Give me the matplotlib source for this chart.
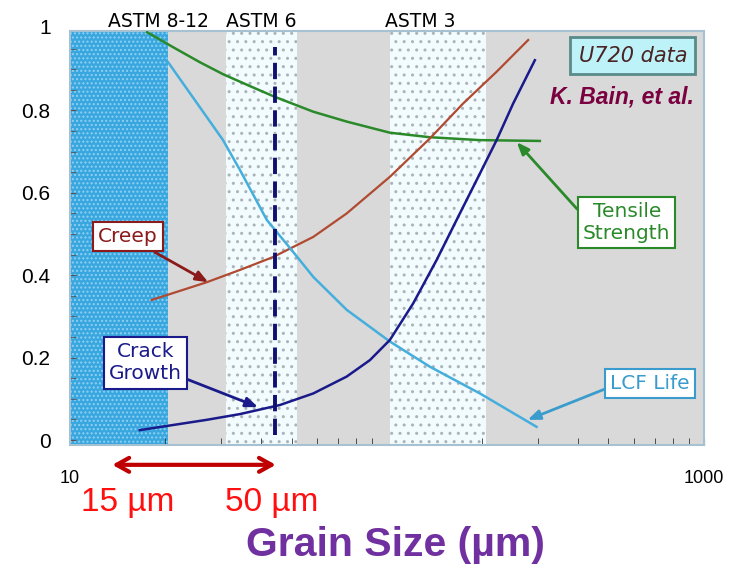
import matplotlib.pyplot as plt
import matplotlib.ticker as mticker

# values (grain size in um, normalised property)
tensile_x = [17.5, 21.1, 25.7, 30.4, 37.0, 44.3, 58.55, 74.65, 102.2, 136.6, 196.6, 303.8]
tensile_y = [0.99, 0.954, 0.917, 0.888, 0.859, 0.833, 0.797, 0.773, 0.746, 0.735, 0.728, 0.726]

creep_x = [18.1, 27, 34.4, 43.7, 58.55, 74.65, 102.2, 136.6, 174.0, 221.9, 279.1]
creep_y = [0.34, 0.383, 0.413, 0.444, 0.493, 0.550, 0.639, 0.732, 0.817, 0.894, 0.971]

lcf_x = [20.4, 30.4, 34.4, 41.8, 50.05, 58.55, 74.65, 102.2, 136.6, 196.6, 296.7]
lcf_y = [0.917, 0.728, 0.655, 0.534, 0.461, 0.396, 0.316, 0.239, 0.178, 0.113, 0.032]

crack_x = [16.6, 27, 34.4, 45.97, 58.55, 74.65, 88.4, 102.2, 121.1, 143.5, 169.9,
           196.6, 221.9, 250.3, 293.0]
crack_y = [0.024, 0.049, 0.063, 0.085, 0.113, 0.154, 0.194, 0.243, 0.332, 0.437,
           0.550, 0.647, 0.728, 0.817, 0.922]

# grain size bands
band_names = ["ASTM 8-12", "ASTM 6", "ASTM 3"]
band_lo = [10, 31, 102]
band_hi = [20.4, 52, 205]
band_label_x = [19, 40, 127]

dashed_x = 44.3
range_lo, range_hi = 13.6, 44.6

green = "#2a8a2a"
brown = "#b04a30"
ltblue = "#45aedc"
navy = "#1a1a8a"

fig = plt.figure(figsize=(7.31, 5.69), dpi=100)
ax = fig.add_axes([0.0958, 0.218, 0.867, 0.7276])
ax.set_facecolor("#d9d9d9")
ax.set_xscale("log")
ax.set_xlim(10, 1000)
ax.set_ylim(-0.012, 0.993)

# shaded bands
ax.axvspan(band_lo[0], band_hi[0], facecolor="#38a6df", edgecolor="#8fd0f2",
           hatch="....", lw=0, zorder=1)
for lo, hi in zip(band_lo[1:], band_hi[1:]):
    ax.axvspan(lo, hi, facecolor="#f2fbfd", edgecolor="#a9b3b8",
               hatch="..", lw=0, zorder=1)

for name, xc in zip(band_names, band_label_x):
    ax.text(xc, 1.0, name, ha="center", va="bottom", fontsize=13.5,
            transform=ax.get_xaxis_transform())

# curves
ax.plot(tensile_x, tensile_y, color=green, lw=1.8, zorder=3)
ax.plot(creep_x, creep_y, color=brown, lw=1.6, zorder=3)
ax.plot(lcf_x, lcf_y, color=ltblue, lw=1.8, zorder=3)
ax.plot(crack_x, crack_y, color=navy, lw=1.8, zorder=3)
ax.plot([dashed_x, dashed_x], [0.012, 0.955], color="#101070", lw=2.8,
        dashes=(4.2, 1.9), zorder=4)

# callouts
def callout(txt, xy, xytext, col, relpos=(0.5, 0.5)):
    ax.annotate(txt, xy=xy, xytext=xytext, ha="center", va="center",
                fontsize=14.5, color=col, linespacing=1.2, zorder=5,
                bbox=dict(boxstyle="square,pad=0.25", fc="white", ec=col, lw=1.5),
                arrowprops=dict(arrowstyle="-|>,head_length=0.5,head_width=0.2",
                                color=col, lw=2, relpos=relpos,
                                shrinkA=0, shrinkB=0))

callout("Creep", (27.3, 0.383), (15.2, 0.493), "#8b1a1a")
callout("Crack\nGrowth", (39.2, 0.08), (17.3, 0.187), navy)
callout("Tensile\nStrength", (257, 0.723), (571, 0.529), green, relpos=(0, 0.66))
callout("LCF Life", (278, 0.049), (676, 0.138), "#3a9ccc", relpos=(0, 0.3))

ax.text(0.888, 0.94, "U720 data", transform=ax.transAxes, ha="center",
        va="center", fontsize=15, style="italic", color="#4a2424", zorder=5,
        bbox=dict(boxstyle="square,pad=0.4", fc="#bdf2f8", ec="#5a8a8a", lw=2))
ax.text(0.985, 0.84, "K. Bain, et al.", transform=ax.transAxes, ha="right",
        va="center", fontsize=16.5, fontweight="bold", style="italic",
        color="#7a0040", family="Liberation Sans", zorder=5)

# axes styling
for sp in ax.spines.values():
    sp.set_color("#a6c2d2")
    sp.set_linewidth(1.5)
ax.yaxis.set_major_locator(mticker.MultipleLocator(0.2))
ax.yaxis.set_minor_locator(mticker.MultipleLocator(0.05))
ax.yaxis.set_major_formatter(mticker.FuncFormatter(lambda v, p: f"{v:g}"))
ax.tick_params(axis="y", which="both", direction="in", colors="#555555",
               labelcolor="black", length=4, pad=14)
ax.tick_params(axis="y", labelsize=15)
for lab in ax.get_yticklabels():
    lab.set_family("Liberation Sans")
# the "1" label sits just above the top of the frame
ax.annotate("1", xy=(0, 1.0), xycoords=("axes fraction", "data"),
            xytext=(-14, 0), textcoords="offset points", ha="right",
            va="center", fontsize=15, family="Liberation Sans",
            annotation_clip=False)
ax.xaxis.set_major_locator(mticker.FixedLocator([10, 1000]))
ax.xaxis.set_minor_locator(mticker.LogLocator(subs=range(2, 10)))
ax.xaxis.set_minor_formatter(mticker.NullFormatter())
ax.xaxis.set_major_formatter(mticker.FuncFormatter(lambda v, p: f"{v:g}"))
ax.tick_params(axis="x", which="both", direction="in", colors="#333333",
               labelcolor="black", length=5, pad=18)
ax.tick_params(axis="x", labelsize=13)
for lab in ax.get_xticklabels():
    lab.set_family("Liberation Sans")

# red range arrow under the axis
ax.annotate("", xy=(range_lo, -0.048), xytext=(range_hi, -0.048),
            xycoords=("data", "axes fraction"), textcoords=("data", "axes fraction"),
            arrowprops=dict(arrowstyle="<->,head_length=0.9,head_width=0.5",
                            color="#c00000", lw=3, shrinkA=0, shrinkB=0),
            annotation_clip=False)
fig.text(128 / 731, 1 - 502 / 569, "15 \u00b5m", ha="center", va="center",
         fontsize=24, color="#ff1010", family="Liberation Sans")
fig.text(272 / 731, 1 - 503 / 569, "50 \u00b5m", ha="center", va="center",
         fontsize=24, color="#ff1010", family="Liberation Sans")
fig.text(395 / 731, 1 - 545 / 569, "Grain Size (\u00b5m)", ha="center",
         va="center", fontsize=29.5, fontweight="bold", color="#7030a0",
         family="Liberation Sans")

fig.savefig("out.png", dpi=100)
